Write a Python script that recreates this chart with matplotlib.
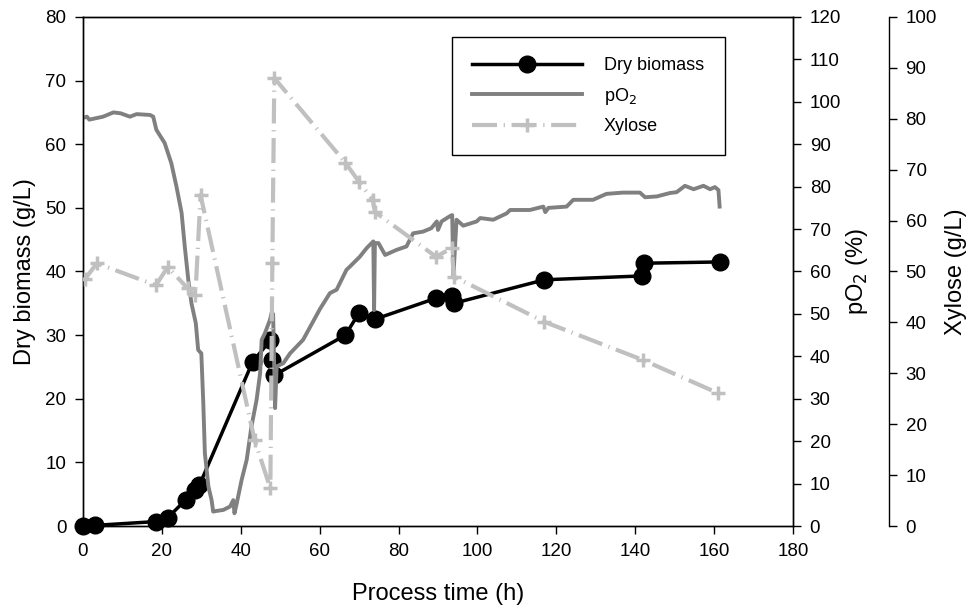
import matplotlib
matplotlib.use("Agg")
import matplotlib.pyplot as plt

plt.rcParams['font.family'] = ['Liberation Sans', 'DejaVu Sans']

# dry biomass (g/L) vs process time (h)
bio_t = [0, 3, 18.5, 21.5, 26, 28.5, 29.5, 43, 47.5, 48, 48.5, 66.5, 70, 74,
         89.5, 93.5, 94, 117, 141.6, 142.1, 161.5]
bio_g = [0, 0.1, 0.7, 1.3, 4.1, 5.7, 6.4, 25.8, 29.2, 26.1, 23.7, 30.0, 33.5, 32.5,
         35.8, 36.2, 35.0, 38.7, 39.3, 41.3, 41.5]

# xylose (g/L)
xyl_t = [0.5, 3.5, 18.5, 21.5, 26.5, 28.5, 29.8, 43.5, 47.5, 48, 48.5, 66.5, 70,
         73.5, 74, 89.5, 93.5, 94, 117, 142, 161]
xyl_g = [48.5, 51.6, 47.3, 50.9, 46.7, 45.4, 65.0, 16.9, 7.4, 51.7, 88.0, 71.4, 67.6,
         64.0, 61.7, 52.9, 54.6, 49.0, 40.1, 32.6, 26.1]

# pO2 (%) online trace
po2_t = [0, 1.0, 1.6, 5.1, 7.7, 9.5, 11.9, 13.6, 17.0, 17.8, 18.6, 20.7, 22.4, 23.7,
         25.0, 25.8, 26.7, 27.5, 28.6, 29.2, 30.0, 30.5, 30.9, 31.8, 32.6, 33.0, 33.5,
         35.6, 37.3, 38.1, 38.4, 38.9, 40.2, 41.5, 42.7, 44.0, 44.9, 45.3, 46.1, 47.4,
         47.8, 48.2, 48.7, 49.1, 50.8, 52.5, 55.8, 60.1, 62.6, 64.3, 66.8, 67.6, 70.2,
         71.9, 73.6, 73.8, 74.0, 74.9, 76.6, 79.5, 82.0, 83.7, 86.2, 88.3, 89.7, 90.0,
         90.9, 93.1, 93.6, 93.9, 94.7, 96.4, 99.8, 100.7, 104.0, 107.4, 108.3, 113.3,
         116.7, 117.2, 118.0, 122.6, 124.3, 129.3, 132.7, 136.9, 141.2, 142.5, 145.5,
         148.8, 150.5, 152.6, 154.8, 157.3, 159.0, 160.2, 161.1, 161.4]
po2_v = [96.2, 96.5, 95.8, 96.5, 97.5, 97.3, 96.5, 97.1, 96.9, 96.5, 93.4, 90.3, 85.5,
         80.0, 73.8, 65.9, 58.0, 52.5, 47.8, 41.5, 40.7, 28.9, 17.1, 9.3, 6.1, 3.4, 3.5,
         3.8, 4.6, 6.1, 3.0, 5.0, 10.8, 15.6, 23.4, 29.7, 36.0, 43.9, 45.4, 48.6, 50.2,
         50.0, 27.8, 37.6, 38.4, 40.7, 43.9, 51.2, 54.9, 55.7, 60.4, 61.1, 63.5, 65.5,
         67.1, 50.9, 66.7, 66.7, 63.9, 65.1, 65.9, 69.0, 69.4, 70.2, 71.8, 69.8, 71.8,
         73.1, 73.3, 58.8, 72.2, 70.8, 71.8, 72.6, 72.2, 73.7, 74.5, 74.5, 75.3, 74.0,
         75.0, 75.3, 76.9, 76.9, 78.3, 78.6, 78.6, 77.5, 77.7, 78.5, 78.7, 80.2, 79.4,
         80.2, 79.4, 79.9, 79.2, 75.3]

fig = plt.figure(figsize=(9.73, 6.13), dpi=100)
ax = fig.add_axes([0.0853, 0.1419, 0.7297, 0.8304])
ax2 = ax.twinx()
ax3 = ax.twinx()
ax3.spines['right'].set_position(('axes', 1.135))
ax3.spines['top'].set_visible(False)
ax3.spines['bottom'].set_visible(False)
ax3.spines['left'].set_visible(False)

l1, = ax.plot(bio_t, bio_g, color='black', lw=2.5, marker='o', ms=12,
              label='Dry biomass', clip_on=False, zorder=3)
l2, = ax2.plot(po2_t, po2_v, color='#808080', lw=2.8, label='pO$_2$')
l3, = ax3.plot(xyl_t, xyl_g, color='#c0c0c0', lw=3, dashes=[6, 1.6, 0.3, 1.6],
               marker='+', ms=10, mew=2.5, label='Xylose')

ax.set_xlim(0, 180)
ax.set_ylim(0, 80)
ax2.set_ylim(0, 120)
ax3.set_ylim(0, 100)
ax.set_xticks(range(0, 181, 20))
ax.set_yticks(range(0, 81, 10))
ax2.set_yticks(range(0, 121, 10))
ax3.set_yticks(range(0, 101, 10))

for a in (ax, ax2, ax3):
    a.tick_params(direction='out', length=6, width=1, labelsize=13.5, pad=6)
    for s in a.spines.values():
        s.set_linewidth(1)

ax.set_xlabel('Process time (h)', fontsize=17, labelpad=17)
ax.set_ylabel('Dry biomass (g/L)', fontsize=17, labelpad=7)
ax2.set_ylabel('pO$_2$ (%)', fontsize=17, labelpad=2)
ax3.set_ylabel('Xylose (g/L)', fontsize=17, labelpad=6)

leg = fig.legend(handles=[l1, l2, l3], loc='upper left', mode='expand',
                 bbox_to_anchor=(0.4645, 0.7586, 0.2806, 0.181), fontsize=13,
                 handlelength=6.1, handletextpad=1.2, labelspacing=0.65,
                 borderpad=1.1, borderaxespad=0, fancybox=False, framealpha=1)
leg.get_frame().set_edgecolor('black')
leg.get_frame().set_linewidth(1)

fig.savefig('out.png', dpi=100)
